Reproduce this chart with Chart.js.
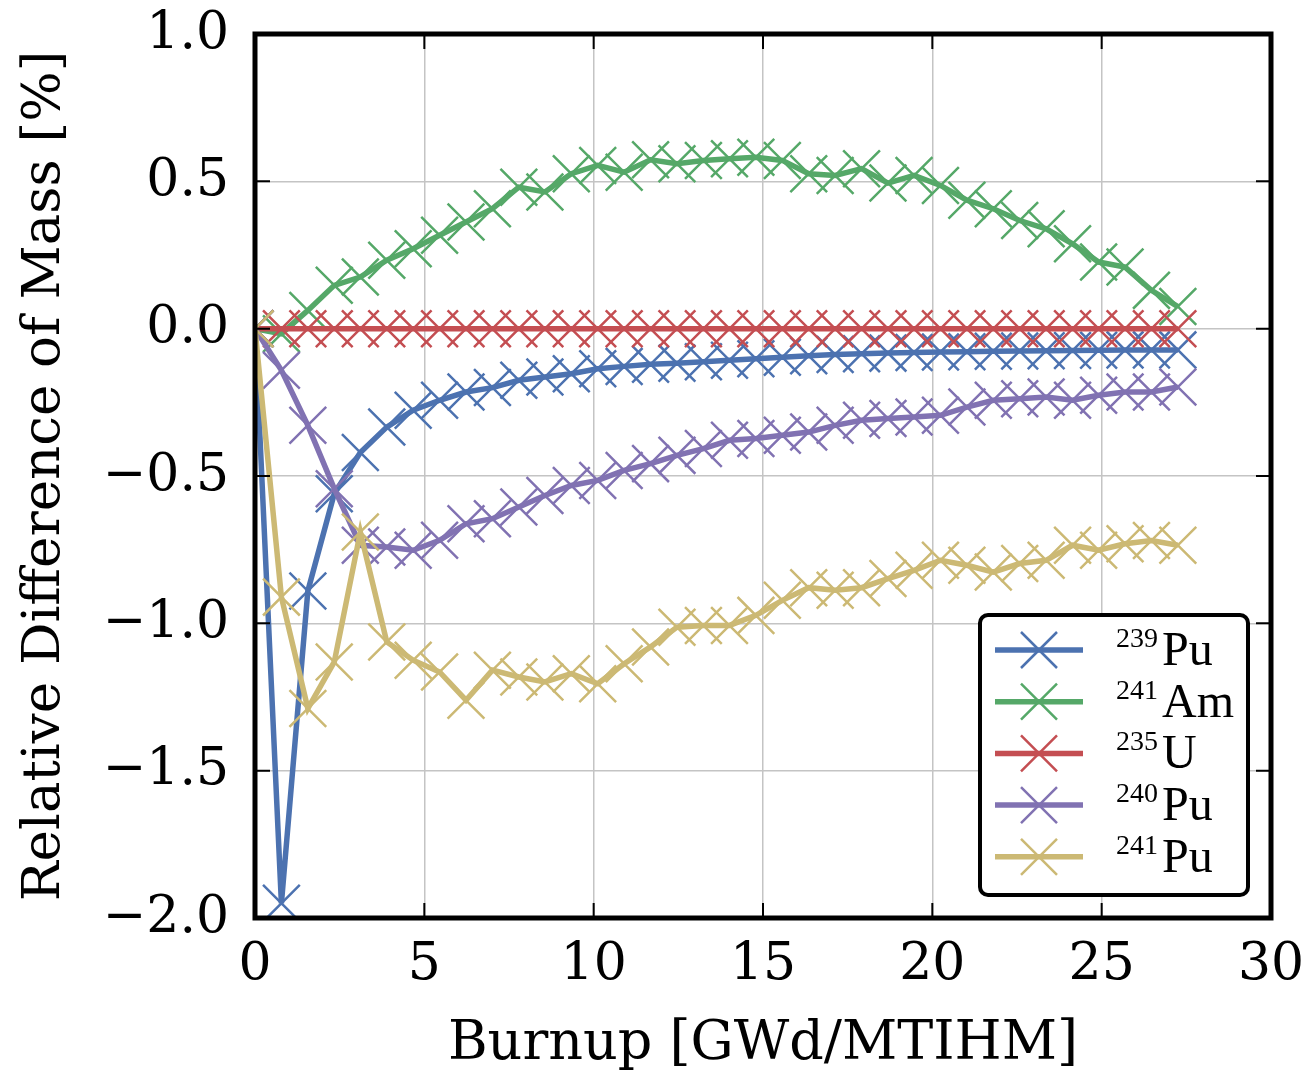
<!DOCTYPE html>
<html>
<head>
<meta charset="utf-8">
<script src="https://cdn.jsdelivr.net/npm/chart.js@4.4.0/dist/chart.umd.min.js"></script>
<style>
html,body{margin:0;padding:0;background:#ffffff;}
#wrap{width:1306px;height:1072px;position:relative;}
</style>
</head>
<body>
<div id="wrap"><canvas id="c" width="1306" height="1072"></canvas></div>
<script>
// ---- data ----
const burnup = [0, 0.78, 1.56, 2.34, 3.11, 3.89, 4.67, 5.45, 6.23, 7.01, 7.79, 8.56, 9.34, 10.12, 10.90, 11.68, 12.46, 13.24, 14.01, 14.79, 15.57, 16.35, 17.13, 17.91, 18.69, 19.46, 20.24, 21.02, 21.80, 22.58, 23.36, 24.14, 24.91, 25.69, 26.47, 27.25];

const pu239 = [0, -1.95, -0.89, -0.56, -0.42, -0.334, -0.277, -0.243, -0.215, -0.2, -0.175, -0.164, -0.153, -0.136, -0.128, -0.121, -0.117, -0.112, -0.107, -0.102, -0.097, -0.092, -0.088, -0.085, -0.083, -0.081, -0.079, -0.078, -0.077, -0.076, -0.075, -0.074, -0.073, -0.072, -0.072, -0.072];

const am241 = [0, -0.017, 0.062, 0.147, 0.175, 0.232, 0.271, 0.317, 0.362, 0.407, 0.48, 0.464, 0.526, 0.554, 0.531, 0.573, 0.56, 0.571, 0.577, 0.582, 0.571, 0.526, 0.52, 0.543, 0.494, 0.52, 0.486, 0.436, 0.407, 0.367, 0.339, 0.288, 0.226, 0.209, 0.13, 0.075];

const u235 = [0, 0, 0, 0, 0, 0, 0, 0, 0, 0, 0, 0, 0, 0, 0, 0, 0, 0, 0, 0, 0, 0, 0, 0, 0, 0, 0, 0, 0, 0, 0, 0, 0, 0, 0, 0];

const pu240 = [0, -0.141, -0.328, -0.543, -0.735, -0.741, -0.752, -0.718, -0.662, -0.645, -0.605, -0.566, -0.532, -0.515, -0.481, -0.458, -0.43, -0.407, -0.379, -0.373, -0.362, -0.351, -0.328, -0.311, -0.305, -0.3, -0.294, -0.266, -0.243, -0.238, -0.232, -0.243, -0.226, -0.215, -0.215, -0.198];

const pu241 = [0, -0.911, -1.289, -1.131, -0.69, -1.063, -1.125, -1.165, -1.261, -1.159, -1.182, -1.199, -1.171, -1.205, -1.137, -1.08, -1.013, -1.007, -1.007, -0.973, -0.922, -0.879, -0.888, -0.879, -0.848, -0.82, -0.786, -0.803, -0.826, -0.797, -0.786, -0.735, -0.752, -0.73, -0.719, -0.735];

const seriesMass = ["239", "241", "235", "240", "241"];
const seriesElem = ["Pu", "Am", "U", "Pu", "Pu"];
const seriesValues = [pu239, am241, u235, pu240, pu241];
const seriesColors = ["#4C72B0", "#55A868", "#C44E52", "#8172B2", "#CCB974"];

const xTickStep = 5, xMin = 0, xMax = 30;
const yTickStep = 0.5, yMin = -2, yMax = 1;

const xTitle = "Burnup [GWd/MTIHM]";
const yTitle = "Relative Difference of Mass [%]";

// ---- chart ----
const FONT = "DejaVu Serif";
const LEG_FONT = "Liberation Serif";

const datasets = seriesValues.map((vals, i) => ({
  label: seriesMass[i] + seriesElem[i],
  data: burnup.map((b, j) => ({x: b, y: vals[j]})),
  borderColor: seriesColors[i],
  backgroundColor: seriesColors[i],
  borderWidth: 5.5,
  pointStyle: 'crossRot',
  pointRadius: 26,
  pointBorderWidth: 2.5,
  pointHoverRadius: 26,
  tension: 0,
  fill: false,
  clip: 0,
  order: seriesValues.length - i
}));

const framePlugin = {
  id: 'frame',
  afterDraw(chart) {
    const ctx = chart.ctx;
    const a = chart.chartArea;
    const xs = chart.scales.x, ys = chart.scales.y;
    ctx.save();
    // inside ticks
    ctx.strokeStyle = '#000';
    ctx.lineWidth = 2;
    const tl = 15;
    xs.ticks.forEach(t => {
      const px = xs.getPixelForValue(t.value);
      ctx.beginPath();
      ctx.moveTo(px, a.bottom); ctx.lineTo(px, a.bottom - tl);
      ctx.moveTo(px, a.top); ctx.lineTo(px, a.top + tl);
      ctx.stroke();
    });
    ys.ticks.forEach(t => {
      const py = ys.getPixelForValue(t.value);
      ctx.beginPath();
      ctx.moveTo(a.left, py); ctx.lineTo(a.left + tl, py);
      ctx.moveTo(a.right, py); ctx.lineTo(a.right - tl, py);
      ctx.stroke();
    });
    // spines
    ctx.lineWidth = 5;
    ctx.strokeRect(a.left, a.top, a.right - a.left, a.bottom - a.top);

    // legend
    const w = 268, h = 280;
    const bx = a.right - 23 - w, by = a.bottom - 23 - h;
    const r = 8;
    ctx.beginPath();
    ctx.moveTo(bx + r, by);
    ctx.lineTo(bx + w - r, by);
    ctx.arcTo(bx + w, by, bx + w, by + r, r);
    ctx.lineTo(bx + w, by + h - r);
    ctx.arcTo(bx + w, by + h, bx + w - r, by + h, r);
    ctx.lineTo(bx + r, by + h);
    ctx.arcTo(bx, by + h, bx, by + h - r, r);
    ctx.lineTo(bx, by + r);
    ctx.arcTo(bx, by, bx + r, by, r);
    ctx.closePath();
    ctx.fillStyle = '#fff';
    ctx.fill();
    ctx.lineWidth = 4;
    ctx.strokeStyle = '#000';
    ctx.stroke();

    chart.data.datasets.forEach((ds, i) => {
      const cy = by + 35 + i * 51.7;
      ctx.strokeStyle = ds.borderColor;
      ctx.lineWidth = 5.5;
      ctx.beginPath();
      ctx.moveTo(bx + 15, cy); ctx.lineTo(bx + 103, cy);
      ctx.stroke();
      const mx = bx + 59, d = 18;
      ctx.lineWidth = 2.5;
      ctx.beginPath();
      ctx.moveTo(mx - d, cy - d); ctx.lineTo(mx + d, cy + d);
      ctx.moveTo(mx - d, cy + d); ctx.lineTo(mx + d, cy - d);
      ctx.stroke();
      ctx.fillStyle = '#000';
      ctx.textBaseline = 'alphabetic';
      ctx.textAlign = 'left';
      const baseY = cy + 15;
      ctx.font = '28px "' + LEG_FONT + '"';
      const sx = bx + 136;
      ctx.fillText(seriesMass[i], sx, baseY - 18);
      const sw = ctx.measureText(seriesMass[i]).width;
      ctx.font = '48px "' + LEG_FONT + '"';
      ctx.fillText(seriesElem[i], sx + sw + 4, baseY);
    });
    ctx.restore();
  }
};

const fmtY = v => (v < 0 ? '\u2212' : '') + Math.abs(v).toFixed(1);

new Chart(document.getElementById('c'), {
  type: 'line',
  data: { datasets },
  options: {
    responsive: false,
    animation: false,
    devicePixelRatio: 1,
    layout: { padding: { top: 34, right: 35, left: 0, bottom: 0 } },
    plugins: { legend: { display: false }, tooltip: { enabled: false } },
    scales: {
      x: {
        type: 'linear', min: xMin, max: xMax,
        ticks: { stepSize: xTickStep, color: '#000', font: { family: FONT, size: 52 }, padding: 16, maxRotation: 0 },
        grid: { color: '#c4c4c4', lineWidth: 1.5, drawTicks: false, tickLength: 0 },
        border: { display: false },
        title: { display: true, text: xTitle, color: '#000', font: { family: FONT, size: 54, lineHeight: 1 }, padding: 0 },
        afterFit(s) { s.height = 154; s.paddingLeft = 0; s.paddingRight = 0; }
      },
      y: {
        type: 'linear', min: yMin, max: yMax,
        ticks: { stepSize: yTickStep, color: '#000', font: { family: FONT, size: 52 }, padding: 26, callback: fmtY },
        grid: { color: '#c4c4c4', lineWidth: 1.5, drawTicks: false, tickLength: 0 },
        border: { display: false },
        title: { display: true, text: yTitle, color: '#000', font: { family: FONT, size: 53, lineHeight: 1 }, padding: { top: 19, bottom: 0 } },
        afterFit(s) { s.width = 255; s.paddingTop = 0; s.paddingBottom = 0; }
      }
    }
  },
  plugins: [framePlugin]
});
</script>
</body>
</html>
